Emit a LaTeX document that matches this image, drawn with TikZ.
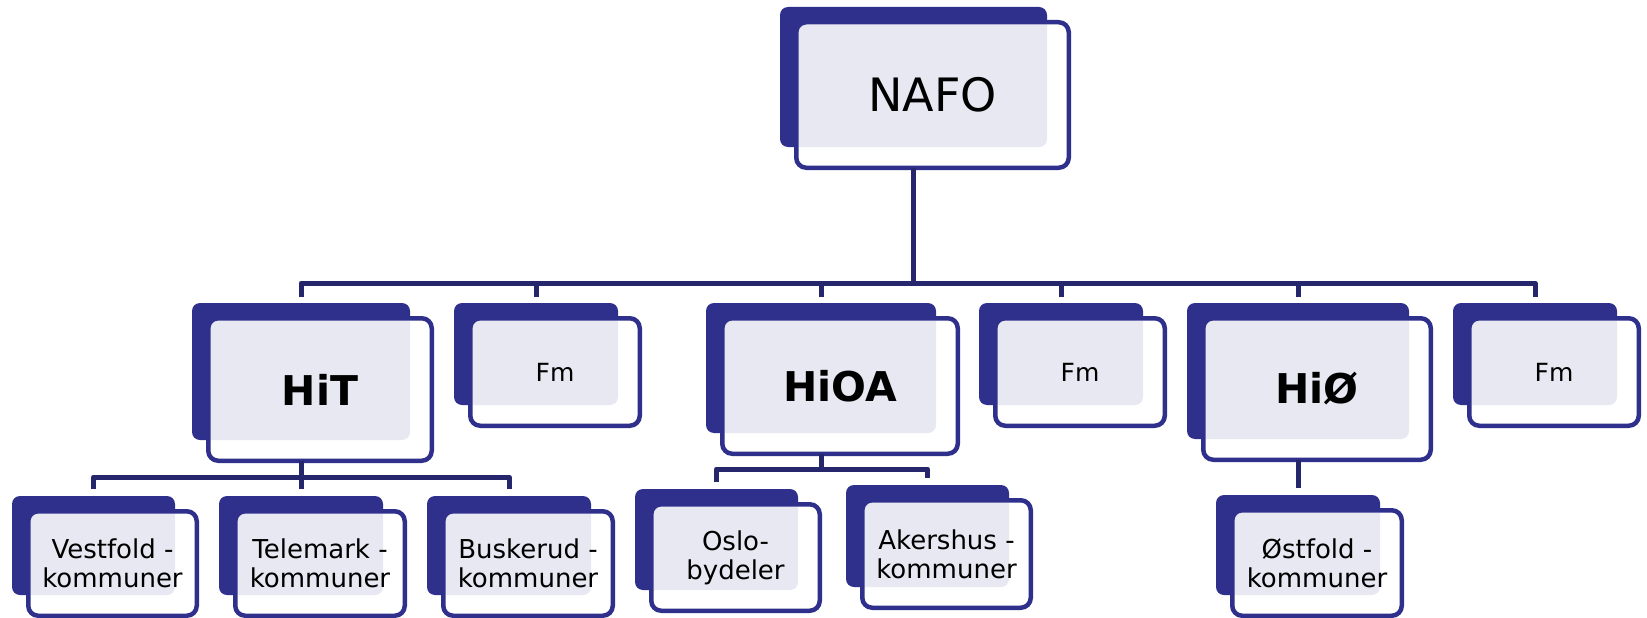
\documentclass[tikz,border=0pt]{standalone}
\usepackage{fontspec}
\setmainfont{DejaVu Sans}
\definecolor{navy}{RGB}{46,48,140}
\definecolor{conncol}{RGB}{38,38,108}
\definecolor{lav}{RGB}{232,232,242}
\tikzset{
 backbox/.style={fill=navy, rounded corners=8pt, inner sep=0pt, outer sep=0pt},
 frontfill/.style={fill=white, rounded corners=10pt, inner sep=0pt, outer sep=0pt},
 frontbox/.style={draw=navy, line width=4.5pt, rounded corners=10pt, inner sep=0pt, outer sep=0pt, align=center, text=black},
 conn/.style={draw=conncol, line width=5pt, line join=round},
 ttlfont/.style={font=\fontsize{46}{50}\selectfont},
 bigfont/.style={font=\fontsize{41}{45}\selectfont\bfseries},
 fmfont/.style={font=\fontsize{25}{28}\selectfont},
 subfont/.style={font=\fontsize{26}{29}\selectfont},
}
\newcommand\orgbox[7]{%
 \pgfmathsetmacro\obw{#4-#2}%
 \pgfmathsetmacro\obh{#5-#3}%
 \pgfmathsetmacro\obcx{(#2+#4)/2}%
 \pgfmathsetmacro\obcy{(#3+#5)/2}%
 \pgfmathsetmacro\ofcx{\obcx+19}%
 \pgfmathsetmacro\ofcy{\obcy+18}%
 \pgfmathsetmacro\ofw{\obw+5.5}%
 \pgfmathsetmacro\ofh{\obh+5.5}%
 \node[backbox, minimum width=\obw pt, minimum height=\obh pt] (#1B) at (\obcx,\obcy) {};
 \node[frontfill, minimum width=\ofw pt, minimum height=\ofh pt] (#1W) at (\ofcx,\ofcy) {};
 \begin{scope}
  \clip[rounded corners=8pt] (#1B.south west) rectangle (#1B.north east);
  \fill[lav, rounded corners=7.75pt] ([shift={(2.25pt,2.25pt)}]#1W.south west) rectangle ([shift={(-2.25pt,-2.25pt)}]#1W.north east);
 \end{scope}
 \node[frontbox, #6, minimum width=\ofw pt, minimum height=\ofh pt] (#1) at (\ofcx,\ofcy) {#7};
}
\begin{document}
\begin{tikzpicture}[x=1pt, y=-1pt]
\useasboundingbox (0,0) rectangle (1647,618);
\orgbox{nafo}{780}{7}{1047}{147}{ttlfont}{NAFO}
\orgbox{hit}{192}{303}{410}{440}{bigfont}{HiT}
\orgbox{fma}{454}{303}{618}{405}{fmfont}{Fm}
\orgbox{hioa}{706}{303}{936}{433}{bigfont}{HiOA}
\orgbox{fmb}{979}{303}{1143}{405}{fmfont}{Fm}
\orgbox{hio}{1187}{303}{1409}{439}{bigfont}{HiØ}
\orgbox{fmc}{1453}{303}{1617}{405}{fmfont}{Fm}
\orgbox{ves}{12}{496}{175}{595}{subfont}{Vestfold -\\kommuner}
\orgbox{tel}{219}{496}{383}{595}{subfont}{Telemark -\\kommuner}
\orgbox{bsk}{427}{496}{591}{595}{subfont}{Buskerud -\\kommuner}
\orgbox{osl}{635}{489}{798}{590}{subfont}{Oslo-\\bydeler}
\orgbox{ake}{846}{485}{1009}{587}{subfont}{Akershus -\\kommuner}
\orgbox{ost}{1216}{495}{1380}{595}{subfont}{Østfold -\\kommuner}
% top level connectors
\coordinate (busA) at (0,283);
\draw[conn] (nafoB.south |- nafo.south) -- (nafoB.south |- busA);
\draw[conn] ([yshift=6pt]hitB.north) -- (hitB.north |- busA) -- (fmcB.north |- busA) -- ([yshift=6pt]fmcB.north);
\draw[conn] ([yshift=6pt]fmaB.north) -- (fmaB.north |- busA);
\draw[conn] ([yshift=6pt]hioaB.north) -- (hioaB.north |- busA);
\draw[conn] ([yshift=6pt]fmbB.north) -- (fmbB.north |- busA);
\draw[conn] ([yshift=6pt]hioB.north) -- (hioB.north |- busA);
% HiT subtree
\coordinate (busB) at (0,477);
\draw[conn] (hitB.south |- hit.south) -- (hitB.south |- busB);
\draw[conn] ([yshift=7pt]vesB.north) -- (vesB.north |- busB) -- (bskB.north |- busB) -- ([yshift=7pt]bskB.north);
\draw[conn] ([yshift=7pt]telB.north) -- (telB.north |- busB);
% HiOA subtree
\coordinate (busC) at (0,469);
\draw[conn] (hioaB.south |- hioa.south) -- (hioaB.south |- busC);
\draw[conn] ([yshift=7pt]oslB.north) -- (oslB.north |- busC) -- (akeB.north |- busC) -- ([yshift=7pt]akeB.north);
% HiØ subtree
\draw[conn] (hioB.south |- hio.south) -- ([yshift=7pt]ostB.north);
\end{tikzpicture}
\end{document}
